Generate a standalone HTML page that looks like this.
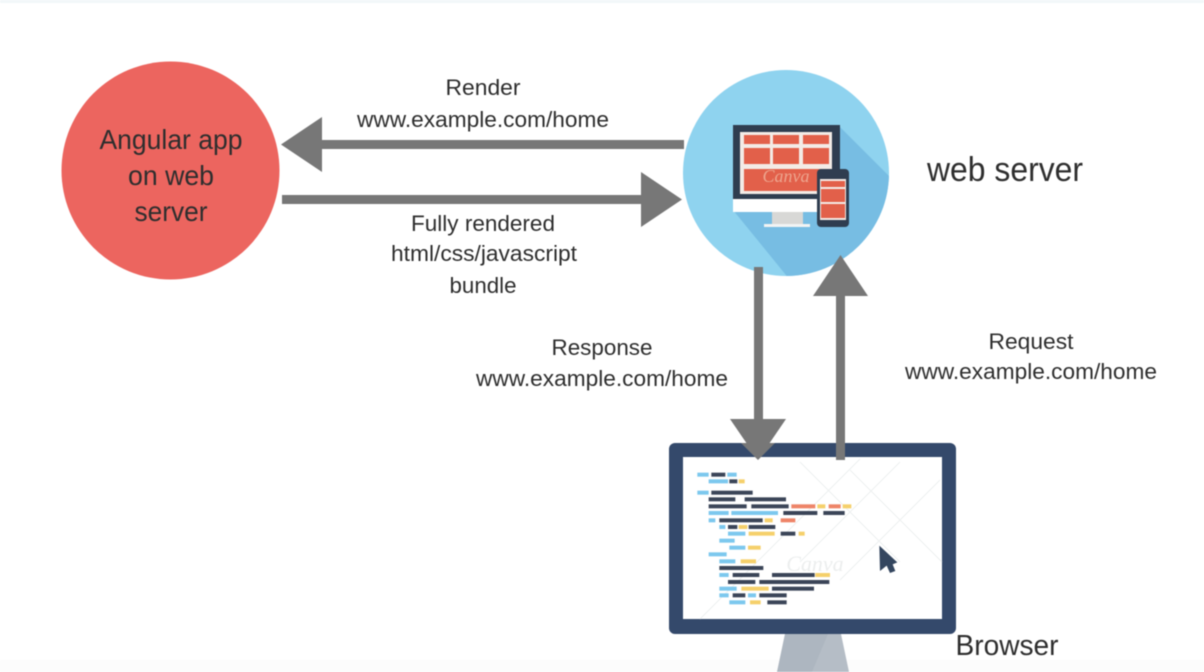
<!DOCTYPE html>
<html><head><meta charset="utf-8"><style>
html,body{margin:0;padding:0;background:#fff}
svg{display:block;filter:blur(.55px)}
text{font-family:"Liberation Sans",sans-serif;fill:#2e2e2e;text-anchor:middle}
.s{font-size:22.500px}
</style></head><body>
<svg width="1204" height="672" viewBox="0 0 1204 672" xmlns="http://www.w3.org/2000/svg">
<defs><clipPath id="c"><circle cx="786" cy="173" r="103"/></clipPath></defs>
<rect width="1204" height="672" fill="#fff"/>
<rect width="1204" height="3" fill="#f2f7f9"/>
<rect y="660" width="1204" height="12" fill="#fcfcfc"/>
<circle cx="170.500" cy="170.500" r="109" fill="#ec655f"/>
<text x="171" y="149" font-size="27.500" textLength="143" lengthAdjust="spacingAndGlyphs">Angular app</text>
<text x="171" y="185" font-size="27.500" textLength="86" lengthAdjust="spacingAndGlyphs">on web</text>
<text x="171" y="221" font-size="27.500" textLength="73" lengthAdjust="spacingAndGlyphs">server</text>

<circle cx="786" cy="173" r="103" fill="#8fd3ef"/>
<polygon clip-path="url(#c)" points="838,125 900,187 900,280 790,280 733,210" fill="#77bde3"/>
<rect x="733" y="125" width="107" height="74" fill="#2f3d50"/>
<rect x="740" y="132" width="92" height="62" fill="#f3ebe6"/>
<g fill="#e2604a">
<rect x="744" y="135" width="26" height="9"/><rect x="773" y="135" width="26" height="9"/><rect x="803" y="135" width="26" height="9"/>
<rect x="744" y="148" width="26" height="16"/><rect x="773" y="148" width="26" height="16"/><rect x="803" y="148" width="26" height="16"/>
<rect x="744" y="169" width="85" height="22"/>
</g>
<text x="786" y="182" font-size="18" font-style="italic" style="fill:#eda58e;font-family:'Liberation Serif',serif">Canva</text>
<rect x="733" y="199" width="107" height="13" fill="#fff"/>
<rect x="772" y="212" width="31" height="12" fill="#d8d8d6"/>
<rect x="764" y="224" width="46" height="3" fill="#f2f4f4"/>
<rect x="817" y="169" width="32" height="58" rx="4" fill="#2f3d50"/>
<rect x="820" y="179" width="26" height="41" fill="#f3ebe6"/>
<g fill="#e2604a"><rect x="821" y="181" width="24" height="6"/><rect x="821" y="189" width="24" height="13"/><rect x="821" y="204" width="24" height="14"/></g>

<g fill="#777">
<rect x="318" y="140" width="366" height="9"/>
<polygon points="281,144.500 322,117 322,172"/>
<rect x="282" y="195" width="362" height="9"/>
<polygon points="682,199.500 641,172 641,227"/>
<rect x="754" y="267" width="9" height="156"/>
<polygon points="758,460 730,419 786,419"/>
<rect x="836" y="292" width="9" height="168"/>
<polygon points="840.500,255 813,296 868,296"/>
</g>

<text class="s" x="483" y="95" textLength="75" lengthAdjust="spacingAndGlyphs">Render</text>
<text class="s" x="483" y="127" textLength="252" lengthAdjust="spacingAndGlyphs">www.example.com/home</text>
<text class="s" x="483" y="231" textLength="144" lengthAdjust="spacingAndGlyphs">Fully rendered</text>
<text class="s" x="484" y="261" textLength="186" lengthAdjust="spacingAndGlyphs">html/css/javascript</text>
<text class="s" x="483" y="293" textLength="67" lengthAdjust="spacingAndGlyphs">bundle</text>
<text class="s" x="602" y="355" textLength="101" lengthAdjust="spacingAndGlyphs">Response</text>
<text class="s" x="602" y="386" textLength="252" lengthAdjust="spacingAndGlyphs">www.example.com/home</text>
<text class="s" x="1031" y="349" textLength="85" lengthAdjust="spacingAndGlyphs">Request</text>
<text class="s" x="1031" y="379" textLength="252" lengthAdjust="spacingAndGlyphs">www.example.com/home</text>
<text x="1005" y="181" font-size="34" textLength="156" lengthAdjust="spacingAndGlyphs">web server</text>
<text x="1007" y="655" font-size="29" textLength="103" lengthAdjust="spacingAndGlyphs">Browser</text>

<polygon points="785,634 841,634 849,672 777,672" fill="#b5bdc6"/>
<polygon points="785,634 828,634 812,672 777,672" fill="#aab3bd" opacity=".7"/>
<rect x="669" y="443" width="287" height="191" rx="6" fill="#34496b"/>
<rect x="683" y="457" width="259" height="162" fill="#fff"/>
<g stroke="#eef1f1" stroke-width="1" fill="none">
<path d="M800 462 L900 562 M900 462 L800 562 M850 470 L942 562 M940 480 L840 580 M700 619 L860 459"/>
</g>
<rect x="836" y="443" width="9" height="17" fill="#777"/>
<polygon points="758,460 741,443 775,443" fill="#777"/>

<g transform="translate(660,435) scale(.33333)">
<g fill="#7cc8ee">
<rect x="112" y="113" width="34" height="12"/><rect x="202" y="113" width="28" height="12"/><rect x="146" y="133" width="58" height="12"/>
<rect x="112" y="167" width="34" height="12"/><rect x="146" y="228" width="60" height="12"/><rect x="214" y="228" width="140" height="12"/>
<rect x="146" y="250" width="20" height="12"/><rect x="178" y="270" width="18" height="12"/><rect x="204" y="290" width="52" height="12"/>
<rect x="178" y="311" width="46" height="12"/><rect x="208" y="332" width="48" height="12"/><rect x="146" y="352" width="54" height="12"/>
<rect x="178" y="373" width="48" height="12"/><rect x="178" y="414" width="28" height="12"/><rect x="178" y="455" width="52" height="12"/>
<rect x="178" y="475" width="28" height="12"/><rect x="264" y="475" width="24" height="12"/><rect x="208" y="496" width="48" height="12"/>
</g>
<g fill="#3b4558">
<rect x="154" y="113" width="42" height="12"/><rect x="208" y="133" width="24" height="12"/><rect x="154" y="167" width="124" height="12"/>
<rect x="146" y="187" width="80" height="12"/><rect x="254" y="187" width="124" height="12"/><rect x="146" y="208" width="114" height="12"/>
<rect x="274" y="208" width="112" height="12"/><rect x="370" y="228" width="102" height="12"/><rect x="490" y="228" width="64" height="12"/>
<rect x="178" y="250" width="130" height="12"/><rect x="204" y="270" width="28" height="12"/><rect x="266" y="270" width="80" height="12"/>
<rect x="362" y="290" width="44" height="12"/><rect x="178" y="393" width="132" height="12"/><rect x="218" y="414" width="80" height="12"/>
<rect x="336" y="414" width="128" height="12"/><rect x="204" y="435" width="82" height="12"/><rect x="298" y="435" width="210" height="12"/>
<rect x="336" y="455" width="126" height="12"/><rect x="218" y="475" width="38" height="12"/><rect x="298" y="475" width="82" height="12"/>
<rect x="322" y="496" width="58" height="12"/>
</g>
<g fill="#f5d06b">
<rect x="236" y="133" width="18" height="12"/><rect x="472" y="208" width="24" height="12"/><rect x="548" y="208" width="26" height="12"/>
<rect x="314" y="250" width="24" height="12"/><rect x="236" y="270" width="26" height="12"/><rect x="266" y="290" width="78" height="12"/>
<rect x="416" y="290" width="18" height="12"/><rect x="264" y="332" width="38" height="12"/><rect x="242" y="373" width="46" height="12"/>
<rect x="466" y="414" width="44" height="12"/><rect x="244" y="455" width="82" height="12"/><rect x="270" y="496" width="32" height="12"/>
</g>
<g fill="#ee8468">
<rect x="394" y="208" width="72" height="12"/><rect x="506" y="208" width="36" height="12"/><rect x="362" y="250" width="44" height="12"/>
</g>
<text x="465" y="408" font-size="66" font-style="italic" style="fill:#eceeee;font-family:'Liberation Serif',serif">Canva</text>
<polygon points="658,332 712,382 698,388 706,408 690,414 680,392 660,408" fill="#34465f"/>
</g>
</svg>
</body></html>
